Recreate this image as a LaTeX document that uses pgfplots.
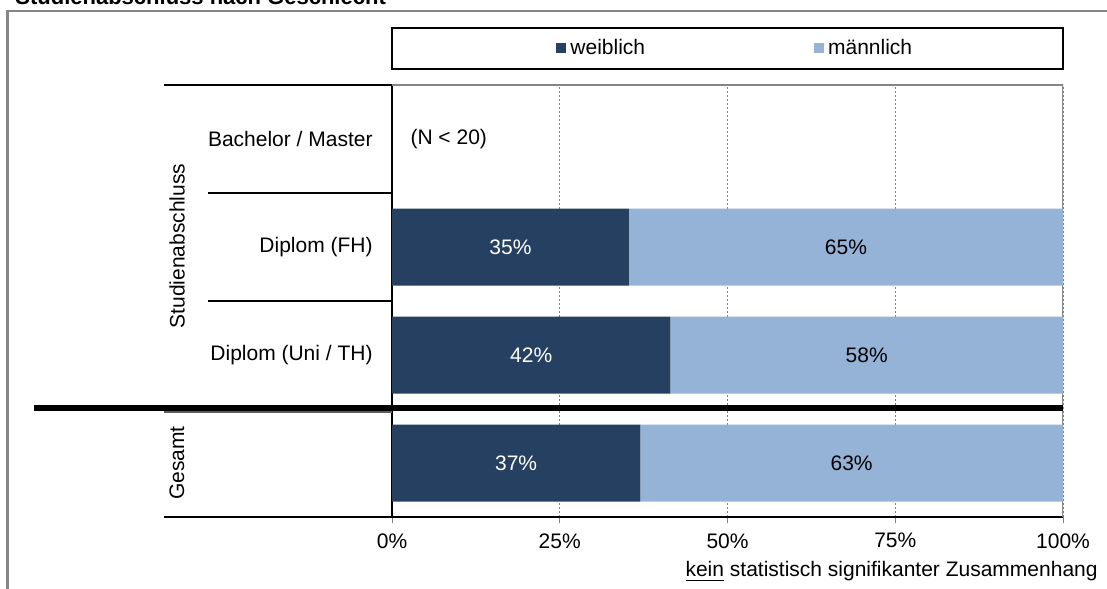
\documentclass[border=0pt]{standalone}
\usepackage{fontspec}
\setmainfont{Liberation Sans}
\usepackage{pgfplots}
\usepackage{pgfplotstable}
\pgfplotsset{compat=1.18}

\definecolor{weibl}{RGB}{38,64,97}
\definecolor{maennl}{RGB}{149,179,215}
\definecolor{rahmen}{RGB}{134,134,134}
\definecolor{gitter}{RGB}{128,128,128}

% Anteile in Prozent; pos: 0 = Gesamt, 1 = Diplom (Uni / TH), 2 = Diplom (FH), 3 = Bachelor / Master
\pgfplotstableread{
pos weiblich maennlich
0   37.0     63.0
1   41.5     58.5
2   35.3     64.7
}\anteile

% Beschriftung der Segmente (Mitte des Segments)
\pgfplotstableread{
x     pos lab
17.65 2   35\%
20.75 1   42\%
18.5  0   37\%
}\labw
\pgfplotstableread{
x     pos lab
67.65 2   65\%
70.75 1   58\%
68.5  0   63\%
}\labm

\newcommand{\schrift}{\fontsize{10.5bp}{12.6bp}\selectfont}

\begin{document}
\begin{tikzpicture}[x=0.5bp, y=-0.5bp, font=\schrift]
\useasboundingbox (0,0) rectangle (1107,589);
\clip (0,0) rectangle (1107,589);

% Rahmen und Titel
\draw[rahmen, line width=1bp] (7.5,620) -- (7.5,11.5) -- (1140,11.5);
\node[anchor=base west, inner sep=0pt, font=\fontsize{11bp}{13bp}\selectfont\bfseries] at (15,5) {Studienabschluss nach Geschlecht};

\begin{axis}[
    at={(196bp,-258.5bp)}, anchor=south west,
    width=335.5bp, height=216bp, scale only axis,
    xbar stacked, bar width=0.713,
    xmin=0, xmax=100, ymin=-0.5, ymax=3.5,
    axis x line*=bottom, axis y line*=left,
    axis line style={black, line width=0.8bp},
    xtick={0,25,50,75,100},
    xticklabels={0\%,25\%,50\%,75\%,100\%},
    tick align=outside, major tick length=3bp,
    x tick style={gitter, line width=0.5bp},
    ytick={1,2,3},
    yticklabels={Diplom (Uni / TH),Diplom (FH),Bachelor / Master},
    y tick style={draw=none},
    yticklabel style={anchor=east, inner sep=0pt, xshift=-6.5bp},
    xticklabel style={inner sep=0pt, yshift=-5bp},
    tick label style={font=\schrift},
    xmajorgrids, grid style={gitter, line width=0.5bp, dash pattern=on 1bp off 1bp},
    legend columns=2,
    legend style={at={(0.2445,1.0845)}, anchor=west, draw=none, fill=none, inner sep=0pt,
        font=\schrift, /tikz/every even column/.append style={column sep=82.5bp}},
    legend image code/.code={\fill[#1] (0bp,-2.5bp) rectangle (5bp,2.5bp);},
]
\addplot[fill=weibl, draw=none] table[x=weiblich, y=pos] {\anteile};
\addlegendentry{weiblich}
\addplot[fill=maennl, draw=none] table[x=maennlich, y=pos] {\anteile};
\addlegendentry{männlich}
\draw[rahmen, line width=0.8bp] (rel axis cs:0,1) -- (rel axis cs:1,1) -- (rel axis cs:1,0);
\end{axis}

% zweite Achse nur fuer die Beschriftungen
\begin{axis}[
    at={(196bp,-258.5bp)}, anchor=south west,
    width=335.5bp, height=216bp, scale only axis,
    xmin=0, xmax=100, ymin=-0.5, ymax=3.5,
    hide axis, clip=false,
    nodes near coords, point meta=explicit symbolic,
    nodes near coords align=center,
]
\addplot[draw=none, mark=none, every node near coord/.style={font=\schrift, white, anchor=center}]
    table[x=x, y=pos, meta=lab] {\labw};
\addplot[draw=none, mark=none, every node near coord/.style={font=\schrift, black, anchor=center}]
    table[x=x, y=pos, meta=lab] {\labm};
\node[anchor=west, inner sep=0pt] at (axis cs:2.7,3) {(N < 20)};
\end{axis}

% Legendenrahmen
\draw[black, line width=1bp] (392,28) rectangle (1063,69);

% Gruppierung links
\draw[black, line width=0.8bp] (164,85) -- (392,85);
\draw[black, line width=0.8bp] (208,193) -- (392,193);
\draw[black, line width=0.8bp] (208,301) -- (392,301);
\draw[rahmen!70!black, line width=0.8bp] (164,412) -- (392,412);
\draw[black, line width=0.8bp] (164,517) -- (392,517);
\draw[black, line width=3bp] (34,408) -- (1063,408);
\node[rotate=90] at (177,246) {Studienabschluss};
\node[rotate=90] at (177,463) {Gesamt};

% Hinweis
\node[anchor=base east, inner sep=0pt] at (1098,577) {\underline{kein} statistisch signifikanter Zusammenhang};
\end{tikzpicture}
\end{document}
